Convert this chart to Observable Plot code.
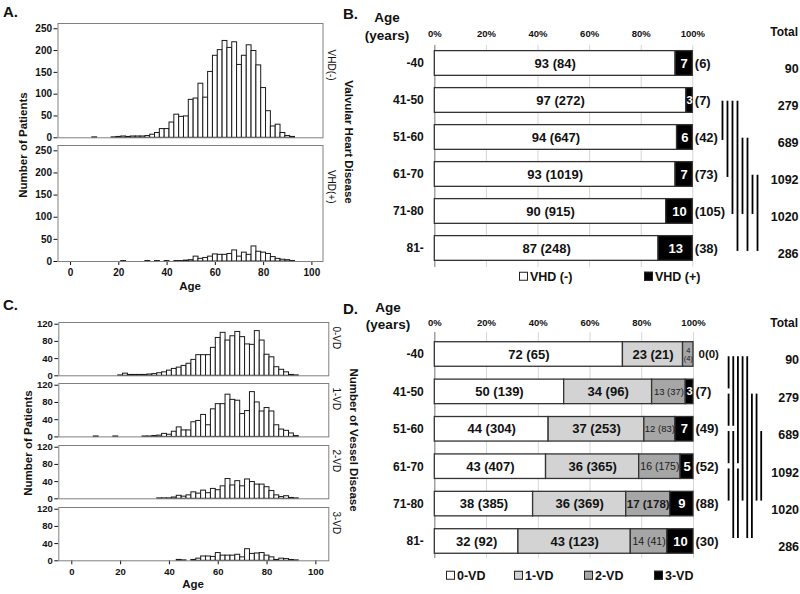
<!DOCTYPE html>
<html><head><meta charset="utf-8">
<script src="https://cdn.jsdelivr.net/npm/d3@7"></script>
<script src="https://cdn.jsdelivr.net/npm/@observablehq/plot@0.6"></script>
<style>
body{margin:0;background:#fff;}
#fig{position:relative;width:800px;height:594px;overflow:hidden;font-family:"Liberation Sans",Arial,Helvetica,sans-serif;color:#111;background:#fff;}
.t{position:absolute;white-space:nowrap;line-height:1;}
.sw{display:inline-block;width:7px;height:7px;border:1px solid #222;margin-right:2px;vertical-align:middle;position:relative;top:-1px;}
</style></head><body><div id="fig"></div>
<script>
// ---------- DATA ----------
// histogram bin centres (2-year bins)
const binAge = [10,12,14,16,18,20,22,24,26,28,30,32,34,36,38,40,42,44,46,48,50,52,54,56,58,60,62,64,66,68,70,72,74,76,78,80,82,84,86,88,90,92];
// Panel A counts
const vhdNeg = [1,0,0,0,1,2,3,2,3,3,3,4,7,11,20,20,35,53,48,49,87,90,124,92,151,188,201,222,206,219,167,188,212,199,166,114,61,26,30,11,4,2];
const vhdPos = [0,0,0,0,0,0,1,0,0,0,0,1,0,1,0,1,0,1,1,2,3,11,6,8,11,16,15,15,17,25,11,20,15,34,22,20,17,10,6,4,3,1];
// Panel C counts
const vd0 = [0,0,0,0,0,1,5,2,2,2,2,3,4,6,8,12,16,19,23,28,37,48,48,48,65,88,100,82,92,102,90,73,72,104,82,49,43,20,14,8,2,1];
const vd1 = [1,0,0,0,1,0,0,0,0,0,1,1,2,3,7,5,12,22,15,15,34,37,51,27,64,76,76,98,86,84,53,60,104,80,59,67,59,27,17,14,8,2];
const vd2 = [0,0,0,0,0,0,0,0,0,0,0,0,0,1,1,1,3,7,5,8,15,12,19,13,23,20,29,46,31,41,29,45,39,33,33,27,18,8,4,6,2,1];
const vd3 = [0,0,0,0,0,0,0,0,0,0,0,0,0,0,0,0,0,2,1,0,2,5,10,10,9,18,12,12,12,14,8,27,16,17,18,12,8,2,5,4,2,1];

// Panel B / D
const ageGroups = ["-40","41-50","51-60","61-70","71-80","81-"];
const groupTotals = [90,279,689,1092,1020,286];
const pctTicks = [0,0.2,0.4,0.6,0.8,1];
const vhdNegPct = [93,97,94,93,90,87];
const vhdNegN   = [84,272,647,1019,915,248];
const vhdPosPct = [7,3,6,7,10,13];
const vhdPosN   = [6,7,42,73,105,38];
const vd0Pct = [72,50,44,43,38,32]; const vd0N = [65,139,304,407,385,92];
const vd1Pct = [23,34,37,36,36,43]; const vd1N = [21,96,253,365,369,123];
const vd2Pct = [4,13,12,16,17,14];  const vd2N = [4,37,83,175,178,41];
const vd3Pct = [0,3,7,5,9,10];      const vd3N = [0,7,49,52,88,30];
// significance brackets (one list per column)
const compB = [
  [["41-50","51-60"]],[["41-50","61-70"]],[["41-50","71-80"]],[["41-50","81-"]],
  [["51-60","71-80"]],[["51-60","81-"]],[["61-70","71-80"]],[["61-70","81-"]]
];
const compD = [
  [["-40","41-50"],["41-50","51-60"],["51-60","61-70"],["61-70","71-80"]],
  [["-40","51-60"],["51-60","81-"]],
  [["-40","61-70"],["61-70","81-"]],
  [["-40","71-80"]],
  [["-40","81-"]],
  [["41-50","81-"]],
  [["41-50","71-80"]],
  [["51-60","71-80"]]
];

// ---------- HELPERS ----------
const fig = document.getElementById("fig");
const FONT = '"Liberation Sans", Arial, Helvetica, sans-serif';
function sty(fs, fw){return {fontFamily:FONT,fontSize:fs+"px",fontWeight:fw||"bold",background:"transparent",overflow:"visible",color:"#111"};}
function place(svg,x,y){svg.style.position="absolute";svg.style.left=x+"px";svg.style.top=y+"px";fig.appendChild(svg);}
function txt(s,x,y,o={}){
  const d=document.createElement("div");d.className="t";d.textContent=s;
  d.style.left=x+"px";d.style.top=y+"px";
  d.style.fontSize=(o.size||12)+"px";d.style.fontWeight=o.weight||"bold";
  const ax=o.anchor==="start"?"0":o.anchor==="end"?"-100%":"-50%";
  d.style.transform=`translate(${ax},-50%)`+(o.rotate?` rotate(${o.rotate}deg)`:"");
  fig.appendChild(d);
}
function legend(items,y){
  for(const it of items){
    const d=document.createElement("div");d.className="t";
    d.style.left=it.x+"px";d.style.top=y+"px";d.style.transform="translate(0,-50%)";
    d.style.fontSize="12.5px";d.style.fontWeight="bold";
    const s=document.createElement("span");s.className="sw";s.style.background=it.fill;
    d.appendChild(s);d.appendChild(document.createTextNode(it.label));
    fig.appendChild(d);
  }
}

function histPanel(o){
  const mt=10, mb=o.showX?34:3, W=345;
  const rows=binAge.map((a,i)=>({age:a,n:o.counts[i]})).filter(d=>d.n>0);
  const svg=Plot.plot({
    width:W,height:mt+(o.fb-o.ft)+mb,
    marginLeft:o.fl,marginRight:W-o.fr,marginTop:mt,marginBottom:mb,
    style:sty(o.fs),
    x:{domain:o.xd,ticks:[0,20,40,60,80,100],tickSize:4,tickPadding:3,label:null,axis:o.showX?"bottom":null},
    y:{domain:o.yd,ticks:o.yt,tickSize:4,tickPadding:2,label:null},
    marks:[
      Plot.rect(rows,{x1:d=>d.age-1,x2:d=>d.age+1,y1:d=>0,y2:"n",fill:"#fff",stroke:"#1a1a1a",strokeWidth:1}),
      Plot.frame({stroke:"#808080"}),
      Plot.text([o.label],{frameAnchor:"right",text:d=>d,rotate:90,dx:o.ldx,fontSize:10,fontWeight:"normal"})
    ]
  });
  place(svg,0,o.ft-mt);
}

function stackPanel(o){
  const W=460;
  const segs=[];
  ageGroups.forEach((g,i)=>{
    const tot=d3.sum(o.series,s=>s.w[i]);let acc=0;
    o.series.forEach(s=>{const v=s.w[i];segs.push({i,name:s.name,x1:acc/tot,x2:(acc+v)/tot,pct:s.pct[i],n:s.n[i],s});acc+=v;});
  });
  const labels=[];
  for(const d of segs){
    const w=d.x2-d.x1,s=d.s,xm=(d.x1+d.x2)/2;
    if(s.split){
      if(w>0){
        labels.push({x:xm,y:d.i,text:String(d.pct),size:w<0.04?11:13,weight:"bold",fill:"#fff",anchor:"middle",dx:0});
        labels.push({x:1,y:d.i,text:`(${d.n})`,size:13,weight:"bold",fill:"#111",anchor:"start",dx:2});
      } else labels.push({x:1,y:d.i,text:`${d.pct}(${d.n})`,size:11.5,weight:"bold",fill:"#111",anchor:"start",dx:5});
    } else if(s.minor){
      const size=w>=0.17?11.5:w>=0.14?10.5:w>=0.1?9.5:7.5;
      labels.push({x:xm,y:d.i,text:w<0.06?`${d.pct}\n(${d.n})`:`${d.pct} (${d.n})`,size,weight:w>=0.17?"bold":"normal",fill:"#1a1a1a",anchor:"middle",dx:0});
    } else labels.push({x:xm,y:d.i,text:`${d.pct} (${d.n})`,size:13,weight:"bold",fill:"#111",anchor:"middle",dx:0});
  }
  const keyed=d3.groups(labels,l=>[l.size,l.weight,l.fill,l.anchor,l.dx].join("|"));
  const textMarks=keyed.map(([k,arr])=>Plot.text(arr,{x:"x",y:"y",text:"text",fontSize:arr[0].size,fontWeight:arr[0].weight,fill:arr[0].fill,textAnchor:arr[0].anchor,dx:arr[0].dx,lineHeight:1}));
  const rules=[];
  o.columns.forEach((col,c)=>col.forEach(([a,b])=>rules.push({c,a:ageGroups.indexOf(a),b:ageGroups.indexOf(b)})));
  const svg=Plot.plot({
    width:W,height:o.fb+5,
    marginLeft:o.xr[0],marginRight:W-o.xr[1],marginTop:o.ft,marginBottom:5,
    style:sty(12),
    x:{domain:[0,1],range:o.xr,axis:null},
    y:{domain:o.yd,range:[o.ft,o.fb],ticks:[0,1,2,3,4,5],tickFormat:i=>ageGroups[i],tickSize:0,tickPadding:11,label:null},
    marks:[
      Plot.ruleX(pctTicks.slice(1),{stroke:"#d6d6d6"}),
      Plot.ruleX([0],{stroke:"#8a8a8a",strokeWidth:1.2}),
      ...o.series.map(s=>Plot.rect(segs.filter(d=>d.name===s.name&&d.x2>d.x1),{x1:"x1",x2:"x2",y1:d=>d.i-o.half,y2:d=>d.i+o.half,fill:s.fill,stroke:"#333",strokeWidth:1.3})),
      ...textMarks,
      Plot.text(pctTicks,{x:d=>d,frameAnchor:"top",lineAnchor:"middle",dy:o.tickDy,text:d=>d3.format(".0%")(d),fontSize:9.5,fontWeight:"bold"}),
      Plot.text(groupTotals.map((t,i)=>({t,i})),{x:d=>o.totX,y:d=>d.i+o.totDy,text:d=>String(d.t),textAnchor:"end",fontSize:12.5,fontWeight:"bold"}),
      Plot.ruleX(rules,{x:d=>o.colX0+d.c*o.colStep,y1:d=>d.a+o.off1,y2:d=>d.b+o.off2,stroke:"#000",strokeWidth:1.8})
    ]
  });
  place(svg,340,o.top);
}

// ---------- PANEL A ----------
const aCommon={fl:57.5,fr:322.5,xd:[-5.2,104.6],yd:[0,262],yt:[0,50,100,150,200,250],fs:10,ldx:8};
histPanel({...aCommon,counts:vhdNeg,label:"VHD(-)",ft:22.7,fb:137,showX:false});
histPanel({...aCommon,counts:vhdPos,label:"VHD(+)",ft:145,fb:261,showX:true});
txt("A.",3,11,{size:15,anchor:"start"});
txt("Number of Patients",24,145,{size:11.5,rotate:-90});
txt("Valvular Heart Disease",347.5,142,{size:11.5,rotate:90});
txt("Age",190,287,{size:11.5});

// ---------- PANEL C ----------
const cCommon={fl:58.3,fr:328.3,xd:[-5.33,105.3],yd:[0,124],yt:[0,40,80,120],fs:9.5,ldx:7};
histPanel({...cCommon,counts:vd0,label:"0-VD",ft:321.7,fb:375,showX:false});
histPanel({...cCommon,counts:vd1,label:"1-VD",ft:383.3,fb:436.7,showX:false});
histPanel({...cCommon,counts:vd2,label:"2-VD",ft:445,fb:498.3,showX:false});
histPanel({...cCommon,counts:vd3,label:"3-VD",ft:506.7,fb:560,showX:true});
txt("C.",3,304,{size:15,anchor:"start"});
txt("Number of Patients",29,443,{size:11.5,rotate:-90});
txt("Number of Vessel Disease",353,440,{size:11.5,rotate:90});
txt("Age",193,585,{size:11.5});

// ---------- PANEL B ----------
stackPanel({
  top:20,ft:25,fb:247,yd:[-0.486,5.514],xr:[94.3,352.3],half:0.334,tickDy:-12,
  totX:1.41,totDy:0.14,colX0:1.115,colStep:0.0194,off1:0.02,off2:0.08,
  series:[
    {name:"VHD (-)",w:vhdNegN,pct:vhdNegPct,n:vhdNegN,fill:"#fff"},
    {name:"VHD (+)",w:vhdPosN,pct:vhdPosPct,n:vhdPosN,fill:"#000",split:true}
  ],
  columns:compB
});
txt("B.",343,13,{size:15,anchor:"start"});
txt("Age",387,17.5,{size:13.5});
txt("(years)",387,35.5,{size:13.5});
txt("Total",798,32,{size:12,anchor:"end"});
legend([{x:519,fill:"#fff",label:"VHD (-)"},{x:644,fill:"#000",label:"VHD (+)"}],277);

// ---------- PANEL D ----------
stackPanel({
  top:307,ft:25,fb:251,yd:[-0.588,5.455],xr:[94.3,353],half:0.328,tickDy:-9.7,
  totX:1.408,totDy:0.16,colX0:1.1357,colStep:0.018,off1:0.06,off2:-0.08,
  series:[
    {name:"0-VD",w:vd0Pct,pct:vd0Pct,n:vd0N,fill:"#fff"},
    {name:"1-VD",w:vd1Pct,pct:vd1Pct,n:vd1N,fill:"#d3d3d3"},
    {name:"2-VD",w:vd2Pct,pct:vd2Pct,n:vd2N,fill:"#a6a6a6",minor:true},
    {name:"3-VD",w:vd3Pct,pct:vd3Pct,n:vd3N,fill:"#000",split:true}
  ],
  columns:compD
});
txt("D.",343,308,{size:15,anchor:"start"});
txt("Age",388,308,{size:13.5});
txt("(years)",388,325,{size:13.5});
txt("Total",798,323,{size:12,anchor:"end"});
legend([{x:446,fill:"#fff",label:"0-VD"},{x:514,fill:"#d3d3d3",label:"1-VD"},{x:584,fill:"#a6a6a6",label:"2-VD"},{x:654,fill:"#000",label:"3-VD"}],576);
</script></body></html>
